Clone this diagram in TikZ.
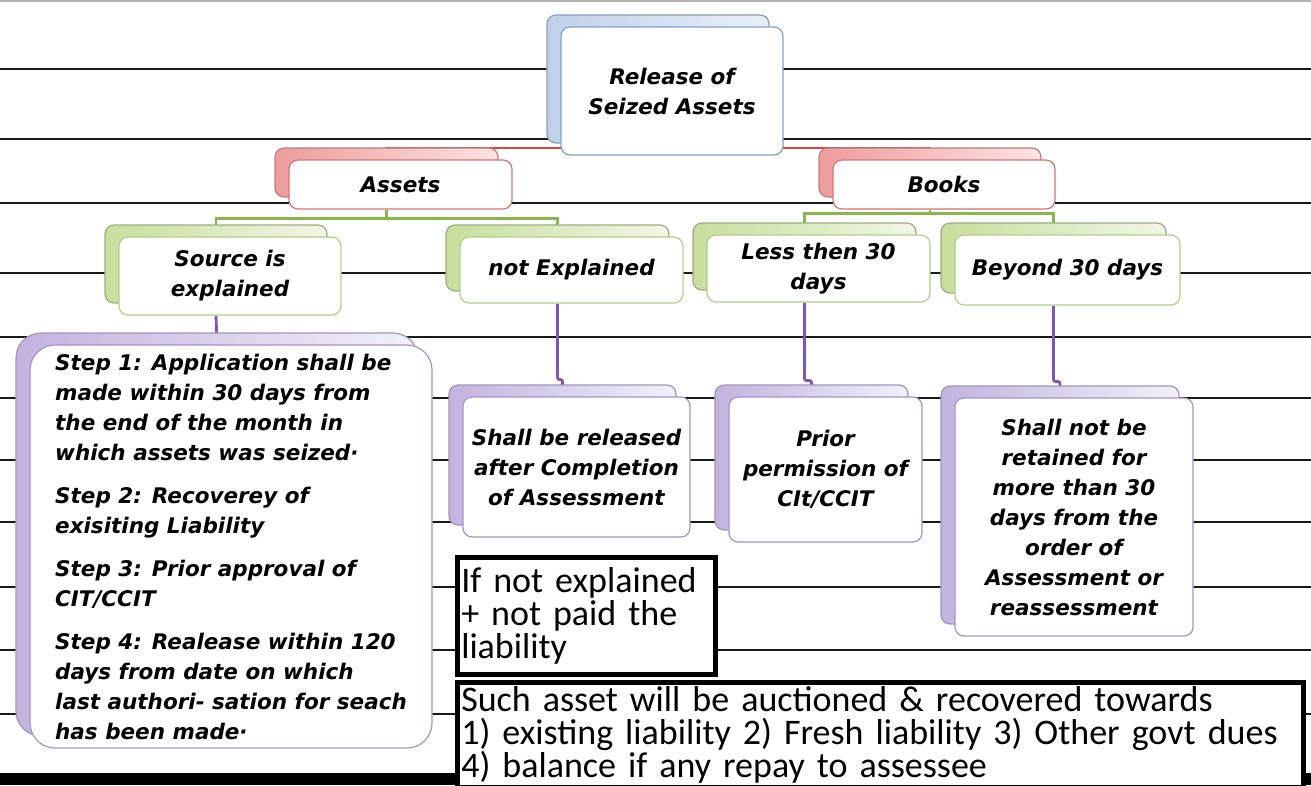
\documentclass[tikz,border=0pt]{standalone}
\usepackage{fontspec}
\usepackage{xcolor}
\usepackage{tikz}
\usetikzlibrary{calc,shadows,backgrounds}
\newfontfamily\boxfont{DejaVu Sans}
\newfontfamily\handfont{Carlito}
\definecolor{rule}{HTML}{1A1A1A}
\definecolor{blueedge}{HTML}{7FA3D0}
\definecolor{blueback}{HTML}{BFD0EA}
\definecolor{bluelight}{HTML}{EAF0F8}
\definecolor{blueshade}{HTML}{8E9DB3}
\definecolor{rededge}{HTML}{D77272}
\definecolor{redback}{HTML}{EE9C9C}
\definecolor{redlight}{HTML}{FBE3E3}
\definecolor{redshade}{HTML}{B98080}
\definecolor{redline}{HTML}{D9463E}
\definecolor{greenedge}{HTML}{B2CF86}
\definecolor{greenback}{HTML}{C8DE9C}
\definecolor{greenlight}{HTML}{F1F6E6}
\definecolor{greenshade}{HTML}{9BAD82}
\definecolor{greenline}{HTML}{8BB64C}
\definecolor{purpleedge}{HTML}{A792CB}
\definecolor{purpleback}{HTML}{C2B3DF}
\definecolor{purplelight}{HTML}{F3F0F9}
\definecolor{purpleshade}{HTML}{A295B8}
\definecolor{purpleline}{HTML}{7B59B2}
\tikzset{
  card/.style={rounded corners=9pt, fill=white, line width=1.2pt, align=center,
    font=\boxfont\bfseries\itshape\fontsize{21.5}{30}\selectfont, inner sep=4pt},
  bluecard/.style={card, draw=blueedge, general shadow={shadow xshift=-14pt, shadow yshift=12pt,
    left color=blueback, right color=bluelight, draw=blueshade}},
  redcard/.style={card, draw=rededge, general shadow={shadow xshift=-14pt, shadow yshift=12pt,
    left color=redback, right color=redlight, draw=redshade}},
  greencard/.style={card, draw=greenedge, general shadow={shadow xshift=-14pt, shadow yshift=12pt,
    left color=greenback, right color=greenlight, draw=greenshade}},
  purplecard/.style={card, draw=purpleedge, general shadow={shadow xshift=-14pt, shadow yshift=12pt,
    left color=purpleback, right color=purplelight, draw=purpleshade}},
  notebox/.style={draw=black, line width=4.5pt, fill=white, align=left, anchor=north west,
    font=\handfont\fontsize{36}{33}\selectfont, inner sep=4pt},
  ruleline/.style={draw=rule, line width=1.6pt},
  topline/.style={draw=black!30, line width=1.5pt},
  redlink/.style={draw=redline, line width=2.2pt},
  greenlink/.style={draw=greenline, line width=2.8pt},
  purplelink/.style={draw=purpleline, line width=2.8pt, rounded corners=2pt},
}
\begin{document}
\begin{tikzpicture}[x=1pt,y=-1pt]
  \useasboundingbox (0,0) rectangle (1311,785);
  \fill[black] (0,773) rectangle (1311,785);

  \node[bluecard, minimum width=222pt, minimum height=128pt] (root) at (672,91) {Release of\\Seized Assets};
  \node[redcard, minimum width=223pt, minimum height=49pt] (assets) at (400.5,184.5) {Assets};
  \node[redcard, minimum width=222pt, minimum height=49pt] (books) at (944,184.5) {Books};

  \node[greencard, minimum width=222pt, minimum height=78pt] (source) at (230,276) {Source is\\explained};
  \node[greencard, minimum width=223pt, minimum height=66pt] (notexp) at (571.5,270) {not Explained};
  \node[greencard, minimum width=223pt, minimum height=67pt] (less) at (818.5,268.5) {Less then 30\\days};
  \node[greencard, minimum width=225pt, minimum height=70pt] (beyond) at (1067.5,270) {Beyond 30 days};

  \node[purplecard, rounded corners=25pt, align=left, minimum width=402pt, minimum height=403pt] (steps) at (231,546.5)
    {Step 1: Application shall be\\made within 30 days from\\the end of the month in\\which assets was seized·\\[13pt]
     Step 2: Recoverey of\\exisiting Liability\\[13pt]
     Step 3: Prior approval of\\CIT/CCIT\\[13pt]
     Step 4: Realease within 120\\days from date on which\\last authori- sation for seach\\has been made·};
  \node[purplecard, minimum width=227pt, minimum height=140pt] (shallrel) at (576.5,467) {Shall be released\\after Completion\\of Assessment};
  \node[purplecard, minimum width=193pt, minimum height=145pt] (prior) at (825.5,469.5) {Prior\\permission of\\CIt/CCIT};
  \node[purplecard, minimum width=238pt, minimum height=238pt] (shallnot) at (1074,517)
    {Shall not be\\retained for\\more than 30\\days from the\\order of\\Assessment or\\reassessment};

  \node[notebox, text width=250pt, minimum height=117pt] (ifnot) at (455,555) {If not explained\\+ not paid the\\liability};
  \node[notebox, text width=838pt, minimum height=100pt] (auction) at (455,680)
    {Such asset will be auctioned \& recovered towards\\1) existing liability 2) Fresh liability 3) Other govt dues\\4) balance if any repay to assessee};

  \begin{scope}[on background layer]
    \draw[topline] (0,1) -- (1311,1);
    \foreach \y in {69,139,203,273,337,398,460,522,587,650,714}
      \draw[ruleline] (0,\y) -- (1311,\y);
    \draw[redlink] ([xshift=-14pt]assets.north) |- ([xshift=-14pt,yshift=8pt]root.south) -| ([xshift=-14pt]books.north);
    \draw[greenlink] ([xshift=-14pt]assets.south) -- ++(0,9) coordinate (aj);
    \draw[greenlink] ([xshift=-14pt]source.north) |- (aj) -| ([xshift=-14pt]notexp.north);
    \draw[greenlink] ([xshift=-14pt]books.south) -- ++(0,4) coordinate (bj);
    \draw[greenlink] ([xshift=-14pt]less.north) |- (bj) -| ([xshift=-14pt]beyond.north);
    \draw[purplelink] ([xshift=-14pt]source.south) -- ([xshift=-14pt]steps.north);
    \draw[purplelink] ([xshift=-14pt]notexp.south) -- ++(0,76) -| ([xshift=-14pt]shallrel.north);
    \draw[purplelink] ([xshift=-14pt]less.south) -- ++(0,78) -| ([xshift=-14pt]prior.north);
    \draw[purplelink] ([xshift=-14pt]beyond.south) -- ++(0,76) -| ([xshift=-14pt]shallnot.north);
  \end{scope}
\end{tikzpicture}
\end{document}
